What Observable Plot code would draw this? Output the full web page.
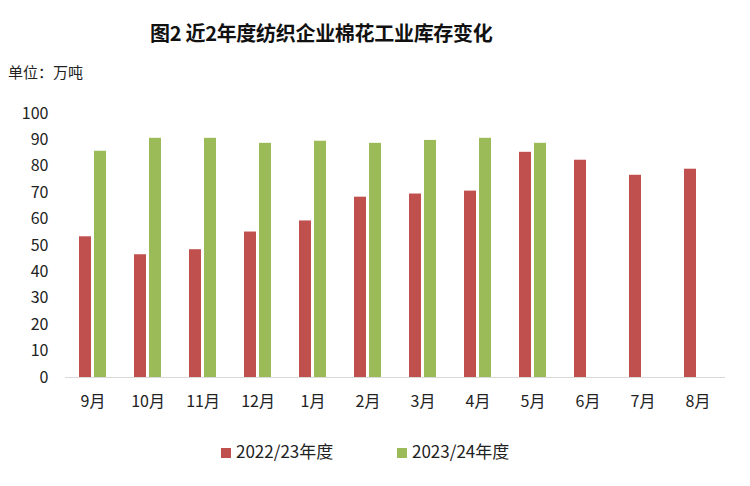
<!DOCTYPE html>
<html>
<head>
<meta charset="utf-8">
<script src="https://cdn.jsdelivr.net/npm/d3@7"></script>
<script src="https://cdn.jsdelivr.net/npm/@observablehq/plot@0.6"></script>
<style>
  body { margin: 0; background: #fff; }
  #wrap { position: relative; width: 750px; height: 486px; overflow: hidden; font-family: "Noto Sans CJK SC", "Noto Sans", sans-serif; color: #1a1a1a; }
  #wrap svg { position: absolute; left: 0; top: 0; }
  .title { position: absolute; left: 150px; top: 19px; font-size: 20px; font-weight: bold; white-space: nowrap; line-height: 28px; color: #111; letter-spacing: -0.3px; }
  .unit { position: absolute; left: 8px; top: 61px; font-size: 15px; line-height: 22px; white-space: nowrap; color: #222; }
  .legend { position: absolute; top: 439px; font-size: 17px; line-height: 24px; white-space: nowrap; color: #222; }
  .sw { display: inline-block; width: 10px; height: 10px; margin-right: 5px; vertical-align: 0px; }
</style>
</head>
<body>
<div id="wrap">
  <div class="title">图2 近2年度纺织企业棉花工业库存变化</div>
  <div class="unit">单位：万吨</div>
</div>
<script>
const months = ["9月","10月","11月","12月","1月","2月","3月","4月","5月","6月","7月","8月"];
const seriesNames = ["2022/23年度","2023/24年度"];
const colors = ["#c0504d","#9bbb59"];
const values2223 = [53.3, 46.5, 48.4, 55.1, 59.3, 68.3, 69.5, 70.6, 85.3, 82.3, 76.6, 78.9];
const values2324 = [85.7, 90.6, 90.6, 88.7, 89.5, 88.7, 89.8, 90.6, 88.7, null, null, null];
const yTicks = [0,10,20,30,40,50,60,70,80,90,100];

const data = [];
months.forEach((m, i) => {
  if (values2223[i] != null) data.push({month: m, series: seriesNames[0], value: values2223[i]});
  if (values2324[i] != null) data.push({month: m, series: seriesNames[1], value: values2324[i]});
});

const chart = Plot.plot({
  width: 750,
  height: 486,
  marginTop: 113,
  marginBottom: 109,
  marginLeft: 61,
  marginRight: 22,
  style: {fontFamily: '"Noto Sans CJK SC", "Noto Sans", sans-serif', fontSize: "16px", color: "#222", background: "transparent"},
  fx: {domain: months, paddingInner: 0, paddingOuter: 0, label: null, axis: "bottom", tickSize: 0, tickPadding: 18},
  x: {domain: seriesNames, paddingInner: 0.2, paddingOuter: 0.83, axis: null},
  y: {domain: [0, 100], ticks: yTicks, tickSize: 0, tickPadding: 17, label: null},
  color: {domain: seriesNames, range: colors},
  marks: [
    Plot.ruleY([0], {stroke: "#d9d9d9", strokeWidth: 1.2}),
    Plot.barY(data, {fx: "month", x: "series", y: "value", fill: "series"})
  ]
});
const wrap = document.getElementById("wrap");
wrap.appendChild(chart);

const legendX = [221, 397];
seriesNames.forEach((s, i) => {
  const d = document.createElement("div");
  d.className = "legend";
  d.style.left = legendX[i] + "px";
  d.innerHTML = `<span class="sw" style="background:${colors[i]}"></span>${s}`;
  wrap.appendChild(d);
});
</script>
</body>
</html>
